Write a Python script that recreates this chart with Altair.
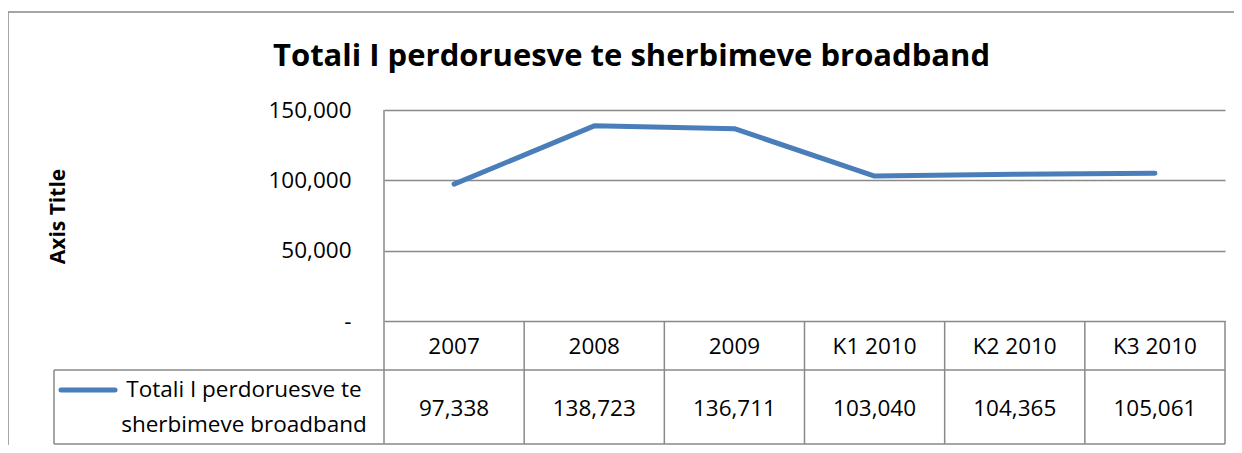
import altair as alt
import pandas as pd

categories = ["2007", "2008", "2009", "K1 2010", "K2 2010", "K3 2010"]
values = [97338, 138723, 136711, 103040, 104365, 105061]
legend_lines = ["Totali I perdoruesve te", "sherbimeve broadband"]
y_ticks = [0, 50000, 100000, 150000]
chart_title = "Totali I perdoruesve te sherbimeve broadband"
y_title = "Axis Title"

W, H = 841, 211
GRID = "#898989"
BLUE = "#4A7EBB"
FONT = "Open Sans"
FS = 22.5

df = pd.DataFrame({"cat": categories, "value": values})
df["label"] = [f"{v:,}" for v in values]
one = pd.DataFrame({"a": [0]})
bounds = pd.DataFrame({"k": list(range(1, len(categories) + 1))})

xcat = alt.X("cat:N", sort=categories, scale=alt.Scale(type="point", padding=0.5), axis=None)

yaxis = alt.Axis(
    values=y_ticks, grid=True, gridColor=GRID, gridWidth=1.5, ticks=False, domain=False,
    labelFont=FONT, labelFontSize=FS, labelColor="black", labelPadding=33,
    labelExpr="datum.value == 0 ? '-\u00a0\u00a0' : format(datum.value, ',')",
    title=y_title, titleFont=FONT, titleFontSize=21, titleFontWeight="bold", titleColor="black",
    titleAngle=270, titleX=-326, titleY=106, titleAlign="center", titleBaseline="middle",
)

line = alt.Chart(df).mark_line(color=BLUE, strokeWidth=5, strokeCap="round", strokeJoin="round").encode(
    x=xcat,
    y=alt.Y("value:Q", scale=alt.Scale(domain=[0, 150000], nice=False), axis=yaxis),
)

header = alt.Chart(df).mark_text(font=FONT, fontSize=FS, color="black", baseline="middle").encode(
    x=xcat, y=alt.value(236.5), text="cat:N"
)
vals = alt.Chart(df).mark_text(font=FONT, fontSize=FS, color="black", baseline="middle").encode(
    x=xcat, y=alt.value(299), text="label:N"
)

vlines = alt.Chart(bounds).mark_rule(color=GRID, strokeWidth=1.5).encode(
    x=alt.X("k:Q", scale=alt.Scale(domain=[0, len(categories)], nice=False, zero=True), axis=None),
    y=alt.value(H), y2=alt.value(334),
)

def rule(**kw):
    return alt.Chart(one).mark_rule(color=GRID, strokeWidth=1.5).encode(**kw)

axis_line = rule(x=alt.value(0), y=alt.value(0), y2=alt.value(334))
h_mid = rule(x=alt.value(-330), x2=alt.value(W), y=alt.value(260))
h_bot = rule(x=alt.value(-330), x2=alt.value(W), y=alt.value(334))
leg_left = rule(x=alt.value(-330), y=alt.value(260), y2=alt.value(334))
border_top = rule(x=alt.value(-376), x2=alt.value(W + 9), y=alt.value(-98))
border_left = rule(x=alt.value(-376), y=alt.value(-98), y2=alt.value(335))

legend_key = alt.Chart(one).mark_rule(color=BLUE, strokeWidth=5, strokeCap="round").encode(
    x=alt.value(-323), x2=alt.value(-269), y=alt.value(280)
)
legend_text = alt.Chart(one).mark_text(
    font=FONT, fontSize=FS, color="black", align="center", baseline="middle",
    lineBreak="\n", lineHeight=35,
).encode(x=alt.value(-140), y=alt.value(280), text=alt.value("\n".join(legend_lines)))

title = alt.Chart(one).mark_text(
    font=FONT, fontSize=31, fontWeight="bold", color="black", align="center", baseline="alphabetic"
).encode(x=alt.value(247.5), y=alt.value(-44), text=alt.value(chart_title))

chart = alt.layer(
    border_top, border_left, title,
    line, vlines, axis_line, h_mid, h_bot, leg_left,
    header, vals, legend_key, legend_text,
).resolve_scale(x="independent").properties(
    width=W, height=H,
    autosize=alt.AutoSizeParams(type="none"),
    padding={"left": 376, "top": 102, "right": 9, "bottom": 124},
    background="white",
).configure_view(stroke=None)

chart.save("out.html", embed_options={"renderer": "svg", "actions": False})
